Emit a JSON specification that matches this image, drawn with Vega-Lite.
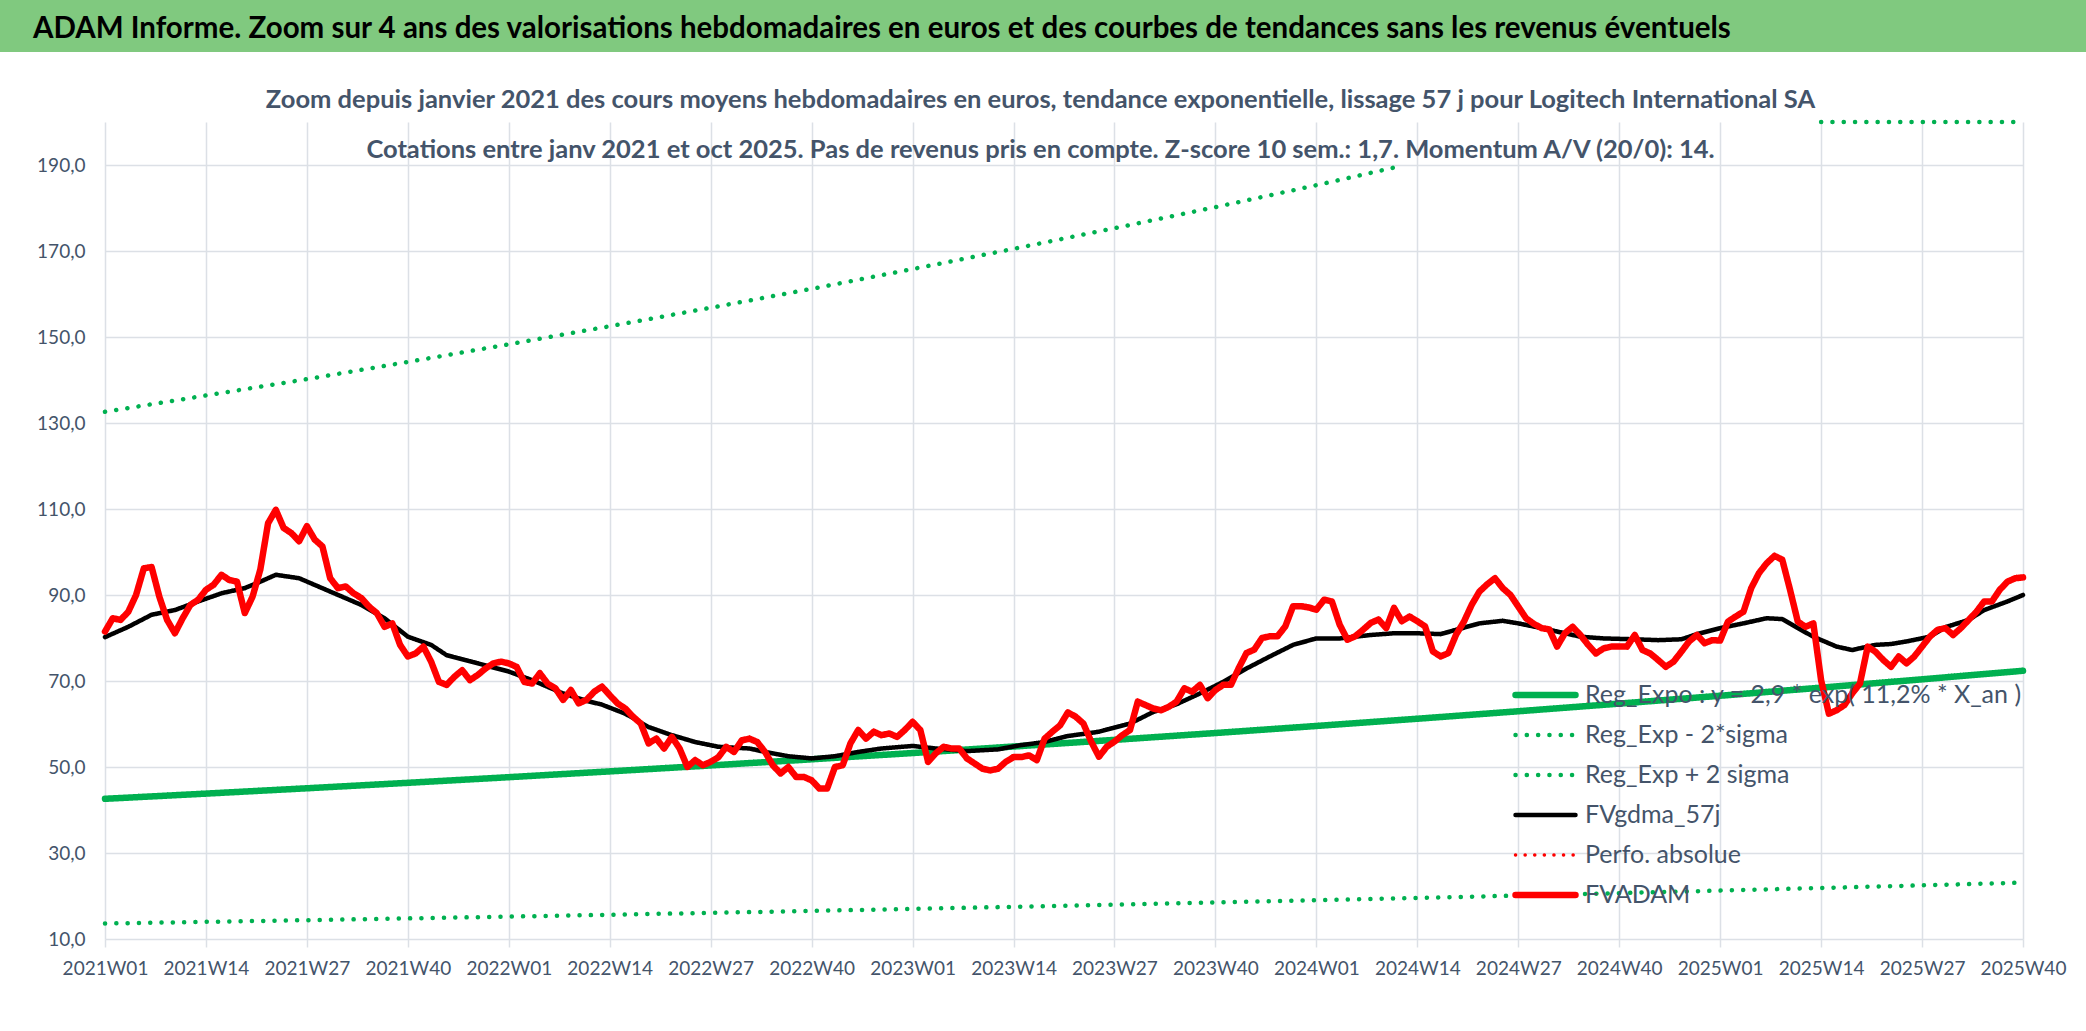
{
"$schema": "https://vega.github.io/schema/vega-lite/v6.json",
"background": "white",
"padding": 0,
"columns": 1,
"bounds": "flush",
"spacing": {"row": 70, "column": 0},
"config": {
  "locale": {"number": {"decimal": ",", "thousands": " ", "grouping": [3], "currency": ["", " €"]}},
  "view": {"stroke": null},
  "font": "Lato",
  "legend": {"labelFont": "Lato", "labelFontSize": 25, "labelColor": "#44546A", "labelLimit": 700}
},
"datasets": {"d": [
{"w":"2021W01","s":"Reg_Exp - 2*sigma","v":13.6},{"w":"2021W14","s":"Reg_Exp - 2*sigma","v":13.99},{"w":"2021W27","s":"Reg_Exp - 2*sigma","v":14.38},{"w":"2021W40","s":"Reg_Exp - 2*sigma","v":14.79},{"w":"2022W01","s":"Reg_Exp - 2*sigma","v":15.21},{"w":"2022W14","s":"Reg_Exp - 2*sigma","v":15.64},{"w":"2022W27","s":"Reg_Exp - 2*sigma","v":16.08},{"w":"2022W40","s":"Reg_Exp - 2*sigma","v":16.54},{"w":"2023W01","s":"Reg_Exp - 2*sigma","v":17.0},{"w":"2023W14","s":"Reg_Exp - 2*sigma","v":17.49},{"w":"2023W27","s":"Reg_Exp - 2*sigma","v":17.98},{"w":"2023W40","s":"Reg_Exp - 2*sigma","v":18.49},{"w":"2024W01","s":"Reg_Exp - 2*sigma","v":19.01},{"w":"2024W14","s":"Reg_Exp - 2*sigma","v":19.55},{"w":"2024W27","s":"Reg_Exp - 2*sigma","v":20.1},{"w":"2024W40","s":"Reg_Exp - 2*sigma","v":20.67},{"w":"2025W01","s":"Reg_Exp - 2*sigma","v":21.26},{"w":"2025W14","s":"Reg_Exp - 2*sigma","v":21.86},{"w":"2025W27","s":"Reg_Exp - 2*sigma","v":22.48},{"w":"2025W40","s":"Reg_Exp - 2*sigma","v":23.11},
{"w":"2021W01","s":"Reg_Exp + 2 sigma","g":"a","v":132.6},{"w":"2021W14","s":"Reg_Exp + 2 sigma","g":"a","v":136.4},{"w":"2021W27","s":"Reg_Exp + 2 sigma","g":"a","v":140.2},{"w":"2021W40","s":"Reg_Exp + 2 sigma","g":"a","v":144.2},{"w":"2022W01","s":"Reg_Exp + 2 sigma","g":"a","v":148.3},{"w":"2022W14","s":"Reg_Exp + 2 sigma","g":"a","v":152.5},{"w":"2022W27","s":"Reg_Exp + 2 sigma","g":"a","v":156.8},{"w":"2022W40","s":"Reg_Exp + 2 sigma","g":"a","v":161.2},{"w":"2023W01","s":"Reg_Exp + 2 sigma","g":"a","v":165.8},{"w":"2023W14","s":"Reg_Exp + 2 sigma","g":"a","v":170.5},{"w":"2023W27","s":"Reg_Exp + 2 sigma","g":"a","v":175.3},{"w":"2023W40","s":"Reg_Exp + 2 sigma","g":"a","v":180.2},{"w":"2024W01","s":"Reg_Exp + 2 sigma","g":"a","v":185.3},{"w":"2024W11","s":"Reg_Exp + 2 sigma","g":"a","v":189.4},
{"w":"2025W14","s":"Reg_Exp + 2 sigma","g":"b","v":213.1},{"w":"2025W27","s":"Reg_Exp + 2 sigma","g":"b","v":219.1},{"w":"2025W40","s":"Reg_Exp + 2 sigma","g":"b","v":225.3},
{"w":"2021W01","s":"Reg_Expo : y = 2,9 *  exp( 11,2% *  X_an )","v":42.6},{"w":"2021W14","s":"Reg_Expo : y = 2,9 *  exp( 11,2% *  X_an )","v":43.81},{"w":"2021W27","s":"Reg_Expo : y = 2,9 *  exp( 11,2% *  X_an )","v":45.05},{"w":"2021W40","s":"Reg_Expo : y = 2,9 *  exp( 11,2% *  X_an )","v":46.32},{"w":"2022W01","s":"Reg_Expo : y = 2,9 *  exp( 11,2% *  X_an )","v":47.63},{"w":"2022W14","s":"Reg_Expo : y = 2,9 *  exp( 11,2% *  X_an )","v":48.98},{"w":"2022W27","s":"Reg_Expo : y = 2,9 *  exp( 11,2% *  X_an )","v":50.36},{"w":"2022W40","s":"Reg_Expo : y = 2,9 *  exp( 11,2% *  X_an )","v":51.79},{"w":"2023W01","s":"Reg_Expo : y = 2,9 *  exp( 11,2% *  X_an )","v":53.25},{"w":"2023W14","s":"Reg_Expo : y = 2,9 *  exp( 11,2% *  X_an )","v":54.76},{"w":"2023W27","s":"Reg_Expo : y = 2,9 *  exp( 11,2% *  X_an )","v":56.31},{"w":"2023W40","s":"Reg_Expo : y = 2,9 *  exp( 11,2% *  X_an )","v":57.9},{"w":"2024W01","s":"Reg_Expo : y = 2,9 *  exp( 11,2% *  X_an )","v":59.54},{"w":"2024W14","s":"Reg_Expo : y = 2,9 *  exp( 11,2% *  X_an )","v":61.22},{"w":"2024W27","s":"Reg_Expo : y = 2,9 *  exp( 11,2% *  X_an )","v":62.96},{"w":"2024W40","s":"Reg_Expo : y = 2,9 *  exp( 11,2% *  X_an )","v":64.74},{"w":"2025W01","s":"Reg_Expo : y = 2,9 *  exp( 11,2% *  X_an )","v":66.57},{"w":"2025W14","s":"Reg_Expo : y = 2,9 *  exp( 11,2% *  X_an )","v":68.45},{"w":"2025W27","s":"Reg_Expo : y = 2,9 *  exp( 11,2% *  X_an )","v":70.39},{"w":"2025W40","s":"Reg_Expo : y = 2,9 *  exp( 11,2% *  X_an )","v":72.38},
{"w":"2021W01","s":"FVgdma_57j","v":80.2},{"w":"2021W04","s":"FVgdma_57j","v":82.6},{"w":"2021W07","s":"FVgdma_57j","v":85.4},{"w":"2021W10","s":"FVgdma_57j","v":86.5},{"w":"2021W13","s":"FVgdma_57j","v":88.5},{"w":"2021W16","s":"FVgdma_57j","v":90.4},{"w":"2021W19","s":"FVgdma_57j","v":91.6},{"w":"2021W21","s":"FVgdma_57j","v":93.1},{"w":"2021W23","s":"FVgdma_57j","v":94.7},{"w":"2021W26","s":"FVgdma_57j","v":93.9},{"w":"2021W30","s":"FVgdma_57j","v":90.8},{"w":"2021W34","s":"FVgdma_57j","v":87.7},{"w":"2021W37","s":"FVgdma_57j","v":84.6},{"w":"2021W40","s":"FVgdma_57j","v":80.3},{"w":"2021W43","s":"FVgdma_57j","v":78.4},{"w":"2021W45","s":"FVgdma_57j","v":76},{"w":"2021W49","s":"FVgdma_57j","v":74.1},
{"w":"2022W01","s":"FVgdma_57j","v":72.2},{"w":"2022W04","s":"FVgdma_57j","v":70.2},{"w":"2022W08","s":"FVgdma_57j","v":67.1},{"w":"2022W11","s":"FVgdma_57j","v":65.4},{"w":"2022W13","s":"FVgdma_57j","v":64.5},{"w":"2022W16","s":"FVgdma_57j","v":62.4},{"w":"2022W19","s":"FVgdma_57j","v":59.3},{"w":"2022W22","s":"FVgdma_57j","v":57.4},{"w":"2022W25","s":"FVgdma_57j","v":55.8},{"w":"2022W28","s":"FVgdma_57j","v":54.7},{"w":"2022W32","s":"FVgdma_57j","v":54.3},{"w":"2022W34","s":"FVgdma_57j","v":53.5},{"w":"2022W37","s":"FVgdma_57j","v":52.5},{"w":"2022W40","s":"FVgdma_57j","v":52},{"w":"2022W43","s":"FVgdma_57j","v":52.5},{"w":"2022W46","s":"FVgdma_57j","v":53.5},{"w":"2022W49","s":"FVgdma_57j","v":54.3},
{"w":"2023W01","s":"FVgdma_57j","v":54.9},{"w":"2023W04","s":"FVgdma_57j","v":54.3},{"w":"2023W08","s":"FVgdma_57j","v":53.7},{"w":"2023W12","s":"FVgdma_57j","v":54.1},{"w":"2023W15","s":"FVgdma_57j","v":55.1},{"w":"2023W18","s":"FVgdma_57j","v":55.8},{"w":"2023W21","s":"FVgdma_57j","v":57.2},{"w":"2023W25","s":"FVgdma_57j","v":58.2},{"w":"2023W29","s":"FVgdma_57j","v":60.1},{"w":"2023W32","s":"FVgdma_57j","v":62.8},{"w":"2023W35","s":"FVgdma_57j","v":64.6},{"w":"2023W38","s":"FVgdma_57j","v":67.1},{"w":"2023W41","s":"FVgdma_57j","v":69.8},{"w":"2023W44","s":"FVgdma_57j","v":72.9},{"w":"2023W47","s":"FVgdma_57j","v":75.7},{"w":"2023W50","s":"FVgdma_57j","v":78.4},
{"w":"2024W01","s":"FVgdma_57j","v":79.9},{"w":"2024W04","s":"FVgdma_57j","v":79.9},{"w":"2024W08","s":"FVgdma_57j","v":80.7},{"w":"2024W11","s":"FVgdma_57j","v":81.1},{"w":"2024W14","s":"FVgdma_57j","v":81.1},{"w":"2024W17","s":"FVgdma_57j","v":80.9},{"w":"2024W19","s":"FVgdma_57j","v":81.9},{"w":"2024W22","s":"FVgdma_57j","v":83.4},{"w":"2024W25","s":"FVgdma_57j","v":84},{"w":"2024W27","s":"FVgdma_57j","v":83.4},{"w":"2024W30","s":"FVgdma_57j","v":82.3},{"w":"2024W32","s":"FVgdma_57j","v":81.5},{"w":"2024W35","s":"FVgdma_57j","v":80.3},{"w":"2024W38","s":"FVgdma_57j","v":79.9},{"w":"2024W42","s":"FVgdma_57j","v":79.7},{"w":"2024W45","s":"FVgdma_57j","v":79.5},{"w":"2024W48","s":"FVgdma_57j","v":79.7},{"w":"2024W50","s":"FVgdma_57j","v":80.9},
{"w":"2025W01","s":"FVgdma_57j","v":82.3},{"w":"2025W04","s":"FVgdma_57j","v":83.4},{"w":"2025W07","s":"FVgdma_57j","v":84.6},{"w":"2025W09","s":"FVgdma_57j","v":84.4},{"w":"2025W11","s":"FVgdma_57j","v":82.3},{"w":"2025W13","s":"FVgdma_57j","v":80.3},{"w":"2025W16","s":"FVgdma_57j","v":78},{"w":"2025W18","s":"FVgdma_57j","v":77.2},{"w":"2025W21","s":"FVgdma_57j","v":78.4},{"w":"2025W23","s":"FVgdma_57j","v":78.6},{"w":"2025W25","s":"FVgdma_57j","v":79.2},{"w":"2025W28","s":"FVgdma_57j","v":80.3},{"w":"2025W30","s":"FVgdma_57j","v":82.5},{"w":"2025W33","s":"FVgdma_57j","v":84.2},{"w":"2025W35","s":"FVgdma_57j","v":86.5},{"w":"2025W38","s":"FVgdma_57j","v":88.5},{"w":"2025W40","s":"FVgdma_57j","v":90},
{"w":"2021W01","s":"FVADAM","v":81.5},{"w":"2021W02","s":"FVADAM","v":84.6},{"w":"2021W03","s":"FVADAM","v":84.2},{"w":"2021W04","s":"FVADAM","v":86.1},{"w":"2021W05","s":"FVADAM","v":90},{"w":"2021W06","s":"FVADAM","v":96.2},{"w":"2021W07","s":"FVADAM","v":96.5},{"w":"2021W08","s":"FVADAM","v":89.6},{"w":"2021W09","s":"FVADAM","v":84.2},{"w":"2021W10","s":"FVADAM","v":81.1},
{"w":"2021W11","s":"FVADAM","v":84.6},{"w":"2021W12","s":"FVADAM","v":87.7},{"w":"2021W13","s":"FVADAM","v":88.9},{"w":"2021W14","s":"FVADAM","v":91.2},{"w":"2021W15","s":"FVADAM","v":92.4},{"w":"2021W16","s":"FVADAM","v":94.7},{"w":"2021W17","s":"FVADAM","v":93.5},{"w":"2021W18","s":"FVADAM","v":93.1},{"w":"2021W19","s":"FVADAM","v":85.8},{"w":"2021W20","s":"FVADAM","v":89.6},
{"w":"2021W21","s":"FVADAM","v":95.9},{"w":"2021W22","s":"FVADAM","v":106.7},{"w":"2021W23","s":"FVADAM","v":109.8},{"w":"2021W24","s":"FVADAM","v":105.6},{"w":"2021W25","s":"FVADAM","v":104.4},{"w":"2021W26","s":"FVADAM","v":102.5},{"w":"2021W27","s":"FVADAM","v":106},{"w":"2021W28","s":"FVADAM","v":102.9},{"w":"2021W29","s":"FVADAM","v":101.3},{"w":"2021W30","s":"FVADAM","v":93.9},
{"w":"2021W31","s":"FVADAM","v":91.6},{"w":"2021W32","s":"FVADAM","v":92},{"w":"2021W33","s":"FVADAM","v":90.4},{"w":"2021W34","s":"FVADAM","v":89.3},{"w":"2021W35","s":"FVADAM","v":87.3},{"w":"2021W36","s":"FVADAM","v":85.8},{"w":"2021W37","s":"FVADAM","v":82.6},{"w":"2021W38","s":"FVADAM","v":83.4},{"w":"2021W39","s":"FVADAM","v":78.4},{"w":"2021W40","s":"FVADAM","v":75.7},
{"w":"2021W41","s":"FVADAM","v":76.4},{"w":"2021W42","s":"FVADAM","v":78},{"w":"2021W43","s":"FVADAM","v":74.5},{"w":"2021W44","s":"FVADAM","v":69.8},{"w":"2021W45","s":"FVADAM","v":69.1},{"w":"2021W46","s":"FVADAM","v":71},{"w":"2021W47","s":"FVADAM","v":72.5},{"w":"2021W48","s":"FVADAM","v":70.2},{"w":"2021W49","s":"FVADAM","v":71.4},{"w":"2021W50","s":"FVADAM","v":72.9},
{"w":"2021W51","s":"FVADAM","v":74.1},{"w":"2021W52","s":"FVADAM","v":74.5},
{"w":"2022W01","s":"FVADAM","v":74.1},{"w":"2022W02","s":"FVADAM","v":73.3},{"w":"2022W03","s":"FVADAM","v":69.8},{"w":"2022W04","s":"FVADAM","v":69.4},{"w":"2022W05","s":"FVADAM","v":71.8},{"w":"2022W06","s":"FVADAM","v":69.4},{"w":"2022W07","s":"FVADAM","v":68.3},{"w":"2022W08","s":"FVADAM","v":65.6},{"w":"2022W09","s":"FVADAM","v":67.9},{"w":"2022W10","s":"FVADAM","v":64.8},
{"w":"2022W11","s":"FVADAM","v":65.6},{"w":"2022W12","s":"FVADAM","v":67.5},{"w":"2022W13","s":"FVADAM","v":68.7},{"w":"2022W14","s":"FVADAM","v":66.7},{"w":"2022W15","s":"FVADAM","v":64.8},{"w":"2022W16","s":"FVADAM","v":63.6},{"w":"2022W17","s":"FVADAM","v":61.7},{"w":"2022W18","s":"FVADAM","v":60.1},{"w":"2022W19","s":"FVADAM","v":55.5},{"w":"2022W20","s":"FVADAM","v":56.6},
{"w":"2022W21","s":"FVADAM","v":54.3},{"w":"2022W22","s":"FVADAM","v":57},{"w":"2022W23","s":"FVADAM","v":54.3},{"w":"2022W24","s":"FVADAM","v":50},{"w":"2022W25","s":"FVADAM","v":51.6},{"w":"2022W26","s":"FVADAM","v":50.4},{"w":"2022W27","s":"FVADAM","v":51.2},{"w":"2022W28","s":"FVADAM","v":52.3},{"w":"2022W29","s":"FVADAM","v":54.7},{"w":"2022W30","s":"FVADAM","v":53.5},
{"w":"2022W31","s":"FVADAM","v":56.2},{"w":"2022W32","s":"FVADAM","v":56.6},{"w":"2022W33","s":"FVADAM","v":55.8},{"w":"2022W34","s":"FVADAM","v":53.5},{"w":"2022W35","s":"FVADAM","v":50.4},{"w":"2022W36","s":"FVADAM","v":48.5},{"w":"2022W37","s":"FVADAM","v":50},{"w":"2022W38","s":"FVADAM","v":47.7},{"w":"2022W39","s":"FVADAM","v":47.7},{"w":"2022W40","s":"FVADAM","v":46.9},
{"w":"2022W41","s":"FVADAM","v":45},{"w":"2022W42","s":"FVADAM","v":45},{"w":"2022W43","s":"FVADAM","v":50},{"w":"2022W44","s":"FVADAM","v":50.4},{"w":"2022W45","s":"FVADAM","v":55.5},{"w":"2022W46","s":"FVADAM","v":58.6},{"w":"2022W47","s":"FVADAM","v":56.6},{"w":"2022W48","s":"FVADAM","v":58.2},{"w":"2022W49","s":"FVADAM","v":57.4},{"w":"2022W50","s":"FVADAM","v":57.8},
{"w":"2022W51","s":"FVADAM","v":57},{"w":"2022W52","s":"FVADAM","v":58.6},
{"w":"2023W01","s":"FVADAM","v":60.5},{"w":"2023W02","s":"FVADAM","v":58.6},{"w":"2023W03","s":"FVADAM","v":51.2},{"w":"2023W04","s":"FVADAM","v":53.2},{"w":"2023W05","s":"FVADAM","v":54.7},{"w":"2023W06","s":"FVADAM","v":54.3},{"w":"2023W07","s":"FVADAM","v":54.3},{"w":"2023W08","s":"FVADAM","v":52},{"w":"2023W09","s":"FVADAM","v":50.8},{"w":"2023W10","s":"FVADAM","v":49.6},
{"w":"2023W11","s":"FVADAM","v":49.2},{"w":"2023W12","s":"FVADAM","v":49.6},{"w":"2023W13","s":"FVADAM","v":51.2},{"w":"2023W14","s":"FVADAM","v":52.3},{"w":"2023W15","s":"FVADAM","v":52.3},{"w":"2023W16","s":"FVADAM","v":52.7},{"w":"2023W17","s":"FVADAM","v":51.6},{"w":"2023W18","s":"FVADAM","v":56.6},{"w":"2023W19","s":"FVADAM","v":58.2},{"w":"2023W20","s":"FVADAM","v":59.7},
{"w":"2023W21","s":"FVADAM","v":62.7},{"w":"2023W22","s":"FVADAM","v":61.7},{"w":"2023W23","s":"FVADAM","v":60.1},{"w":"2023W24","s":"FVADAM","v":55.9},{"w":"2023W25","s":"FVADAM","v":52.4},{"w":"2023W26","s":"FVADAM","v":54.7},{"w":"2023W27","s":"FVADAM","v":55.9},{"w":"2023W28","s":"FVADAM","v":57.4},{"w":"2023W29","s":"FVADAM","v":58.6},{"w":"2023W30","s":"FVADAM","v":65.2},
{"w":"2023W31","s":"FVADAM","v":64.4},{"w":"2023W32","s":"FVADAM","v":63.6},{"w":"2023W33","s":"FVADAM","v":63.2},{"w":"2023W34","s":"FVADAM","v":64},{"w":"2023W35","s":"FVADAM","v":65.2},{"w":"2023W36","s":"FVADAM","v":68.3},{"w":"2023W37","s":"FVADAM","v":67.5},{"w":"2023W38","s":"FVADAM","v":69.1},{"w":"2023W39","s":"FVADAM","v":66},{"w":"2023W40","s":"FVADAM","v":67.9},
{"w":"2023W41","s":"FVADAM","v":69.1},{"w":"2023W42","s":"FVADAM","v":69.1},{"w":"2023W43","s":"FVADAM","v":73},{"w":"2023W44","s":"FVADAM","v":76.5},{"w":"2023W45","s":"FVADAM","v":77.3},{"w":"2023W46","s":"FVADAM","v":80},{"w":"2023W47","s":"FVADAM","v":80.4},{"w":"2023W48","s":"FVADAM","v":80.4},{"w":"2023W49","s":"FVADAM","v":82.7},{"w":"2023W50","s":"FVADAM","v":87.4},
{"w":"2023W51","s":"FVADAM","v":87.4},{"w":"2023W52","s":"FVADAM","v":87.1},
{"w":"2024W01","s":"FVADAM","v":86.6},{"w":"2024W02","s":"FVADAM","v":88.9},{"w":"2024W03","s":"FVADAM","v":88.5},{"w":"2024W04","s":"FVADAM","v":83.1},{"w":"2024W05","s":"FVADAM","v":79.6},{"w":"2024W06","s":"FVADAM","v":80.4},{"w":"2024W07","s":"FVADAM","v":81.9},{"w":"2024W08","s":"FVADAM","v":83.5},{"w":"2024W09","s":"FVADAM","v":84.3},{"w":"2024W10","s":"FVADAM","v":82.3},
{"w":"2024W11","s":"FVADAM","v":87},{"w":"2024W12","s":"FVADAM","v":83.9},{"w":"2024W13","s":"FVADAM","v":85},{"w":"2024W14","s":"FVADAM","v":83.9},{"w":"2024W15","s":"FVADAM","v":82.7},{"w":"2024W16","s":"FVADAM","v":76.9},{"w":"2024W17","s":"FVADAM","v":75.7},{"w":"2024W18","s":"FVADAM","v":76.5},{"w":"2024W19","s":"FVADAM","v":80.8},{"w":"2024W20","s":"FVADAM","v":83.8},
{"w":"2024W21","s":"FVADAM","v":87.7},{"w":"2024W22","s":"FVADAM","v":90.8},{"w":"2024W23","s":"FVADAM","v":92.5},{"w":"2024W24","s":"FVADAM","v":93.9},{"w":"2024W25","s":"FVADAM","v":91.6},{"w":"2024W26","s":"FVADAM","v":90},{"w":"2024W27","s":"FVADAM","v":87.3},{"w":"2024W28","s":"FVADAM","v":84.6},{"w":"2024W29","s":"FVADAM","v":83.3},{"w":"2024W30","s":"FVADAM","v":82.3},
{"w":"2024W31","s":"FVADAM","v":82},{"w":"2024W32","s":"FVADAM","v":78},{"w":"2024W33","s":"FVADAM","v":81.1},{"w":"2024W34","s":"FVADAM","v":82.6},{"w":"2024W35","s":"FVADAM","v":80.7},{"w":"2024W36","s":"FVADAM","v":78.4},{"w":"2024W37","s":"FVADAM","v":76.4},{"w":"2024W38","s":"FVADAM","v":77.6},{"w":"2024W39","s":"FVADAM","v":78},{"w":"2024W40","s":"FVADAM","v":78},
{"w":"2024W41","s":"FVADAM","v":78},{"w":"2024W42","s":"FVADAM","v":80.7},{"w":"2024W43","s":"FVADAM","v":77.2},{"w":"2024W44","s":"FVADAM","v":76.4},{"w":"2024W45","s":"FVADAM","v":74.9},{"w":"2024W46","s":"FVADAM","v":73.3},{"w":"2024W47","s":"FVADAM","v":74.5},{"w":"2024W48","s":"FVADAM","v":76.8},{"w":"2024W49","s":"FVADAM","v":79.2},{"w":"2024W50","s":"FVADAM","v":80.7},
{"w":"2024W51","s":"FVADAM","v":78.8},{"w":"2024W52","s":"FVADAM","v":79.5},
{"w":"2025W01","s":"FVADAM","v":79.4},{"w":"2025W02","s":"FVADAM","v":83.8},{"w":"2025W03","s":"FVADAM","v":85},{"w":"2025W04","s":"FVADAM","v":86.1},{"w":"2025W05","s":"FVADAM","v":91.6},{"w":"2025W06","s":"FVADAM","v":95.1},{"w":"2025W07","s":"FVADAM","v":97.4},{"w":"2025W08","s":"FVADAM","v":99.1},{"w":"2025W09","s":"FVADAM","v":98.2},{"w":"2025W10","s":"FVADAM","v":91.2},
{"w":"2025W11","s":"FVADAM","v":83.8},{"w":"2025W12","s":"FVADAM","v":82.6},{"w":"2025W13","s":"FVADAM","v":83.4},{"w":"2025W14","s":"FVADAM","v":70.2},{"w":"2025W15","s":"FVADAM","v":62.4},{"w":"2025W16","s":"FVADAM","v":63.2},{"w":"2025W17","s":"FVADAM","v":64.4},{"w":"2025W18","s":"FVADAM","v":67.1},{"w":"2025W19","s":"FVADAM","v":69.4},{"w":"2025W20","s":"FVADAM","v":78},
{"w":"2025W21","s":"FVADAM","v":76.8},{"w":"2025W22","s":"FVADAM","v":74.9},{"w":"2025W23","s":"FVADAM","v":73.3},{"w":"2025W24","s":"FVADAM","v":75.7},{"w":"2025W25","s":"FVADAM","v":74.1},{"w":"2025W26","s":"FVADAM","v":75.7},{"w":"2025W27","s":"FVADAM","v":78},{"w":"2025W28","s":"FVADAM","v":80.3},{"w":"2025W29","s":"FVADAM","v":81.9},{"w":"2025W30","s":"FVADAM","v":82.3},
{"w":"2025W31","s":"FVADAM","v":80.7},{"w":"2025W32","s":"FVADAM","v":82.3},{"w":"2025W33","s":"FVADAM","v":84.2},{"w":"2025W34","s":"FVADAM","v":86.1},{"w":"2025W35","s":"FVADAM","v":88.5},{"w":"2025W36","s":"FVADAM","v":88.5},{"w":"2025W37","s":"FVADAM","v":91.2},{"w":"2025W38","s":"FVADAM","v":93.1},{"w":"2025W39","s":"FVADAM","v":93.9},{"w":"2025W40","s":"FVADAM","v":94.1}
]},
"concat": [
  {
    "width": 2086,
    "height": 52,
    "view": {"fill": "#80C97F", "stroke": null},
    "data": {"values": [{"t": "ADAM Informe. Zoom sur 4 ans des valorisations hebdomadaires en euros et des courbes de tendances sans les revenus éventuels"}]},
    "mark": {"type": "text", "align": "left", "baseline": "middle", "dx": 33, "dy": 3, "font": "Lato", "fontSize": 29.5, "fontWeight": "bold", "color": "#000000"},
    "encoding": {
      "text": {"field": "t", "type": "nominal"},
      "x": {"datum": 0, "type": "quantitative", "scale": {"domain": [0, 1]}, "axis": null}
    }
  },
  {
    "width": 2023,
    "height": 817,
    "title": {"text": ["Zoom depuis janvier 2021 des cours moyens hebdomadaires en euros, tendance exponentielle, lissage 57 j pour Logitech International SA", "Cotations entre janv 2021 et oct 2025. Pas de revenus pris en compte. Z-score 10 sem.: 1,7. Momentum A/V (20/0): 14."], "anchor": "middle", "frame": "group", "orient": "top", "baseline": "alphabetic", "offset": -64, "dx": 29, "lineHeight": 50, "font": "Lato", "fontSize": 25.5, "fontWeight": "bold", "color": "#44546A"},
    "data": {"name": "d"},
    "encoding": {
      "x": {"field": "w", "type": "ordinal", "sort": "ascending", "scale": {"type": "point", "padding": 0, "range": [105, 2023]},
        "axis": {"title": null, "values": ["2021W01","2021W14","2021W27","2021W40","2022W01","2022W14","2022W27","2022W40","2023W01","2023W14","2023W27","2023W40","2024W01","2024W14","2024W27","2024W40","2025W01","2025W14","2025W27","2025W40"],
          "labelAngle": 0, "grid": true, "gridColor": "#DCE0E6", "gridWidth": 1.5, "domain": false, "ticks": true, "tickSize": 8, "tickColor": "#DCE0E6", "tickWidth": 1.5, "labelFont": "Lato", "labelFontSize": 19, "labelColor": "#44546A", "labelPadding": 12}},
      "y": {"field": "v", "type": "quantitative", "scale": {"domain": [10, 200], "clamp": true, "nice": false, "zero": false},
        "axis": {"title": null, "values": [10,30,50,70,90,110,130,150,170,190], "format": ".1f", "offset": -105, "grid": true, "gridColor": "#DCE0E6", "gridWidth": 1.5, "domain": false, "ticks": false, "labelFont": "Lato", "labelFontSize": 19, "labelColor": "#44546A", "labelPadding": 20}},
      "color": {"field": "s", "type": "nominal",
        "scale": {"domain": ["Reg_Expo : y = 2,9 *  exp( 11,2% *  X_an )", "Reg_Exp - 2*sigma", "Reg_Exp + 2 sigma", "FVgdma_57j", "Perfo. absolue", "FVADAM"], "range": ["#00B050", "#00B050", "#00B050", "#000000", "#FF0000", "#FF0000"]},
        "legend": {"title": null, "orient": "none", "legendX": 1512, "legendY": 675, "symbolType": "stroke", "symbolSize": 3600, "clipHeight": 40, "rowPadding": 0, "labelOffset": 6, "labelFontSize": 25, "labelColor": "#44546A", "labelLimit": 700, "encode": {"symbols": {"update": {"strokeCap": {"value": "round"}}}}}},
      "strokeDash": {"field": "s", "type": "nominal",
        "scale": {"domain": ["Reg_Expo : y = 2,9 *  exp( 11,2% *  X_an )", "Reg_Exp - 2*sigma", "Reg_Exp + 2 sigma", "FVgdma_57j", "Perfo. absolue", "FVADAM"], "range": [[1, 0], [0.1, 11.2], [0.1, 11.2], [1, 0], [0.1, 9.5], [1, 0]]}},
      "strokeWidth": {"field": "s", "type": "nominal",
        "scale": {"type": "ordinal", "domain": ["Reg_Expo : y = 2,9 *  exp( 11,2% *  X_an )", "Reg_Exp - 2*sigma", "Reg_Exp + 2 sigma", "FVgdma_57j", "Perfo. absolue", "FVADAM"], "range": [6.5, 4.5, 4.5, 4.5, 3.5, 6.5]}}
    },
    "layer": [
      {"transform": [{"filter": "datum.s === 'Reg_Exp - 2*sigma'"}], "mark": {"type": "line", "strokeCap": "round", "strokeJoin": "round"}},
      {"transform": [{"filter": "datum.s === 'Reg_Exp + 2 sigma'"}], "mark": {"type": "line", "strokeCap": "round", "strokeJoin": "round"}, "encoding": {"detail": {"field": "g", "type": "nominal"}}},
      {"transform": [{"filter": "datum.s === 'Reg_Expo : y = 2,9 *  exp( 11,2% *  X_an )'"}], "mark": {"type": "line", "strokeCap": "round", "strokeJoin": "round"}},
      {"transform": [{"filter": "datum.s === 'FVgdma_57j'"}], "mark": {"type": "line", "strokeCap": "round", "strokeJoin": "round"}},
      {"transform": [{"filter": "datum.s === 'FVADAM'"}], "mark": {"type": "line", "strokeCap": "round", "strokeJoin": "round"}}
    ]
  }
]
}
